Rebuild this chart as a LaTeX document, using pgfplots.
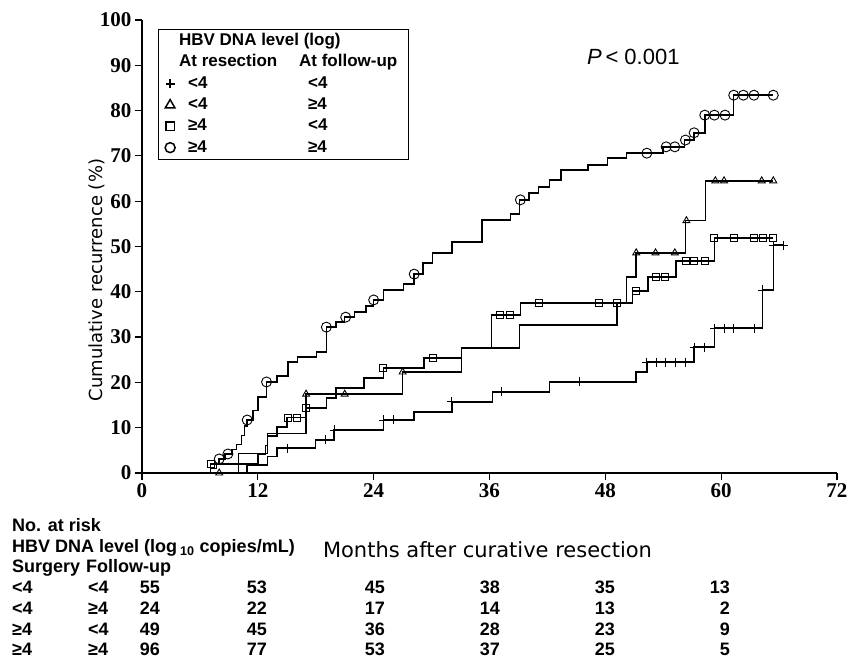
\documentclass[border=0pt]{standalone}
\usepackage{fontspec}
\setmainfont{Liberation Sans}
\newfontfamily\serifb{Liberation Serif}
\newfontfamily\dejavu{DejaVu Sans}
\usepackage{pgfplots}
\pgfplotsset{compat=1.18}

\pgfplotsset{
  km/.style={const plot, black, line width=1.5pt, mark=none, forget plot},
  cens/.style={only marks, black, mark options={line width=0.9pt, solid}, forget plot},
}
\newcommand{\tabfont}{\bfseries\fontsize{18}{19}\selectfont}

\begin{document}
\begin{tikzpicture}
\useasboundingbox (-142pt,-188pt) rectangle (718pt,473pt);
\begin{axis}[
  at={(0pt,0pt)}, anchor=south west,
  width=695pt, height=453pt, scale only axis,
  xmin=0, xmax=72, ymin=0, ymax=100,
  axis x line*=bottom, axis y line*=left,
  xtick={0,12,...,72}, ytick={0,10,...,100},
  tick align=outside, major tick length=7pt,
  every tick/.style={black, line width=1.2pt},
  axis line style={line width=1.3pt},
  tick label style={font=\serifb\bfseries\fontsize{21}{21}\selectfont},
  /pgf/number format/assume math mode=true,
  clip=false,
  legend cell align=left,
  legend style={at={(0.023,0.980)}, anchor=north west, draw=black, line width=1.2pt,
    inner sep=3pt, row sep=4.3pt, /tikz/column sep=13pt,
    font=\bfseries\fontsize{17}{18}\selectfont,
    nodes={inner sep=0pt, text height=13pt, text depth=4pt}},
]
\addlegendimage{empty legend}\addlegendentry{\hspace*{-9pt}HBV DNA level (log)}
\addlegendimage{empty legend}\addlegendentry{\hspace*{-9pt}\makebox[120pt][l]{At resection}At follow-up\hspace*{8pt}}
\addlegendimage{only marks, mark=+, mark size=4.5pt, line width=2pt}\addlegendentry{\makebox[120pt][l]{<4}<4}
\addlegendimage{only marks, mark=triangle, mark size=5.5pt, line width=1.5pt}\addlegendentry{\makebox[120pt][l]{<4}≥4}
\addlegendimage{only marks, mark=square, mark size=4.3pt, line width=1.5pt}\addlegendentry{\makebox[120pt][l]{≥4}<4}
\addlegendimage{only marks, mark=o, mark size=5pt, line width=1.5pt}\addlegendentry{\makebox[120pt][l]{≥4}≥4}

% HBV >=4 / >=4 (circles)
\addplot[km] coordinates {(0,0) (7.1,1.0) (7.7,2.1) (8.0,3.1) (8.6,4.2) (9.3,5.2) (9.8,6.3)
 (10.3,8.3) (10.6,10.4) (10.9,11.7) (11.5,13.8) (12.0,16.8) (12.9,20.1) (14.0,21.4)
 (15.1,24.5) (16.1,25.6) (18.1,26.7) (19.1,32.2) (20.1,33.3) (21.0,34.4) (22.0,35.5)
 (23.2,36.9) (24.0,38.2) (25.0,40.4) (27.1,41.7) (28.2,43.9) (29.1,46.4) (30.1,48.6)
 (32.1,51.0) (35.2,55.8) (38.2,57.2) (39.1,60.3) (40.1,61.8) (41.1,63.1) (42.2,64.7)
 (43.4,66.9) (46.2,68.0) (48.2,69.5) (50.2,70.6) (54.0,72.0) (56.2,73.5) (57.2,75.1)
 (58.3,79.0) (61.3,83.4) (65.4,83.4)};
\addplot[cens, mark=o, mark size=5pt] coordinates {(8.0,3.1) (8.9,4.2) (10.9,11.7) (12.9,20.1)
 (19.1,32.2) (21.1,34.4) (24.0,38.2) (28.2,43.9) (39.2,60.3) (52.3,70.6) (54.3,72.0)
 (55.2,72.0) (56.3,73.5) (57.2,75.1) (58.3,79.0) (59.3,79.0) (60.4,79.0) (61.3,83.4)
 (62.3,83.4) (63.4,83.4) (65.4,83.4)};

% HBV <4 / >=4 (triangles)
\addplot[km] coordinates {(0,0) (10.0,4.3) (13.0,8.7) (17.0,17.4) (27.0,22.3) (33.1,27.6)
 (39.1,32.7) (49.2,37.5) (50.2,43.3) (51.2,48.6) (56.3,55.7) (58.4,64.5) (65.4,64.5)};
\addplot[cens, mark=triangle, mark size=4pt] coordinates {(8.0,0) (17.0,17.4) (21.0,17.4)
 (27.0,22.3) (51.2,48.6) (53.2,48.6) (55.2,48.6) (56.4,55.7) (59.4,64.5) (60.3,64.5)
 (64.2,64.5) (65.4,64.5)};

% HBV >=4 / <4 (squares)
\addplot[km] coordinates {(0,0) (7.1,2.0) (12.0,4.1) (12.8,6.1) (13.0,8.2) (14.0,10.2)
 (15.0,12.2) (17.0,14.3) (19.1,16.6) (20.1,18.8) (23.0,21.0) (25.0,23.2) (29.2,25.4)
 (33.1,27.6) (36.2,34.9) (39.2,37.5) (50.8,40.2) (52.4,43.3) (55.3,46.8) (59.3,51.9)
 (65.4,51.9)};
\addplot[cens, mark=square, mark size=3.5pt] coordinates {(7.1,2.0) (15.1,12.2) (16.1,12.2)
 (17.0,14.3) (25.0,23.2) (30.1,25.4) (37.1,34.9) (38.1,34.9) (41.1,37.5) (47.3,37.5)
 (49.2,37.5) (51.2,40.2) (53.2,43.3) (54.2,43.3) (56.3,46.8) (57.2,46.8) (58.3,46.8)
 (59.3,51.9) (61.3,51.9) (63.4,51.9) (64.3,51.9) (65.4,51.9)};

% HBV <4 / <4 (plus)
\addplot[km] coordinates {(0,0) (10.9,1.8) (13.0,3.6) (14.0,5.5) (18.0,7.3) (19.9,9.5)
 (25.0,11.7) (28.2,13.5) (32.1,15.7) (36.3,17.9) (42.2,20.1) (51.2,22.3) (52.3,24.5)
 (57.2,27.8) (59.3,32.0) (64.3,40.4) (65.4,50.3) (66.5,50.3)};
\addplot[cens, mark=+, mark size=4.5pt] coordinates {(15.1,5.5) (19.0,7.3) (19.9,9.5)
 (25.0,11.7) (26.1,11.7) (32.1,15.7) (37.2,17.9) (45.3,20.1) (52.3,24.5) (53.3,24.5)
 (54.2,24.5) (55.3,24.5) (56.3,24.5) (57.2,27.8) (58.3,27.8) (59.3,32.0) (60.3,32.0)
 (61.3,32.0) (63.4,32.0) (64.3,40.4) (65.4,50.3) (66.5,50.3)};
\end{axis}

\begin{scope}[x=1pt, y=-1pt, shift={(-142pt,473pt)}, every node/.style={inner sep=0pt}]
\node[rotate=90, font=\dejavu\fontsize{18}{20}\selectfont] at (97,280) {Cumulative recurrence (\%)};
\node[anchor=base west, font=\fontsize{22}{24}\selectfont] at (587,65) {\textit{P}\,< 0.001};
\node[anchor=base, font=\dejavu\fontsize{21}{22}\selectfont] at (487.5,558) {Months after curative resection};
\node[anchor=base west, font=\tabfont] at (12,532) {No. at risk};
\node[anchor=base west, font=\tabfont] at (12,553) {HBV DNA level (log\,\textsubscript{10} copies/mL)};
\node[anchor=base west, font=\tabfont] at (12,573) {Surgery};
\node[anchor=base west, font=\tabfont] at (86,573) {Follow-up};
\foreach \y/\a/\b/\na/\nb/\nc/\nd/\ne/\nf in {
  594/<4/<4/55/53/45/38/35/13,
  615/<4/≥4/24/22/17/14/13/2,
  636/≥4/<4/49/45/36/28/23/9,
  656/≥4/≥4/96/77/53/37/25/5}{
  \node[anchor=base west, font=\tabfont] at (12,\y) {\a};
  \node[anchor=base west, font=\tabfont] at (88,\y) {\b};
  \node[anchor=base east, font=\tabfont] at (160,\y) {\na};
  \node[anchor=base east, font=\tabfont] at (267,\y) {\nb};
  \node[anchor=base east, font=\tabfont] at (385,\y) {\nc};
  \node[anchor=base east, font=\tabfont] at (500,\y) {\nd};
  \node[anchor=base east, font=\tabfont] at (615,\y) {\ne};
  \node[anchor=base east, font=\tabfont] at (730,\y) {\nf};
}
\end{scope}
\end{tikzpicture}
\end{document}
